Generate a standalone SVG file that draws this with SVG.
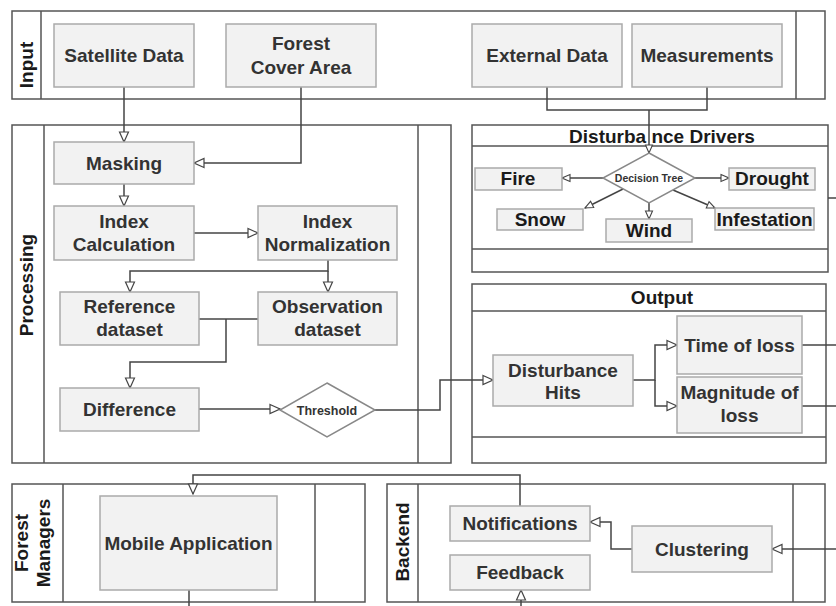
<svg xmlns="http://www.w3.org/2000/svg" width="836" height="606" viewBox="0 0 836 606">
<defs>
<style>
.lane{fill:#fff;stroke:#555;stroke-width:1.5}
.div{stroke:#555;stroke-width:1.5;fill:none}
.box{fill:#f2f2f2;stroke:#aaa;stroke-width:1.5}
.dia{fill:#fff;stroke:#888;stroke-width:1.5}
.t{font-family:"Liberation Sans",Arial,sans-serif;font-weight:bold;font-size:19px;fill:#333;text-anchor:middle}
.tk{fill:#1a1a1a}
.s1{font-size:10.5px}
.s2{font-size:12.5px}
.c{fill:none;stroke:#444;stroke-width:1.5}
.ca{marker-end:url(#arr)}
.cs{marker-end:url(#arrs)}
</style>
<marker id="arr" markerUnits="userSpaceOnUse" viewBox="0 0 12 12" markerWidth="12" markerHeight="12" refX="11" refY="6" orient="auto">
<path d="M1,1.5 L11,6 L1,10.5 Z" fill="#fff" stroke="#444" stroke-width="1.2"/>
</marker>
<marker id="arrs" markerUnits="userSpaceOnUse" viewBox="0 0 10 10" markerWidth="10" markerHeight="10" refX="9" refY="5" orient="auto">
<path d="M1,1.5 L9,5 L1,8.5 Z" fill="#fff" stroke="#444" stroke-width="1.1"/>
</marker>
</defs>
<rect width="836" height="606" fill="#fff"/>

<g id="lane-input">
<rect class="lane" x="12" y="11" width="813" height="88"/>
<path class="div" d="M41,11V99M796,11V99"/>
<text class="t tk" x="33" y="65" transform="rotate(-90 33 65)">Input</text>
</g>
<g id="lane-processing">
<rect class="lane" x="12" y="125" width="439" height="338"/>
<path class="div" d="M44,125V463M418,125V463"/>
<text class="t tk" x="33" y="285" transform="rotate(-90 33 285)">Processing</text>
</g>
<g id="lane-drivers">
<rect class="lane" x="472" y="125" width="356" height="147"/>
<path class="div" d="M472,146H828M472,249H828"/>
<text class="t tk" x="662" y="143">Disturba nce Drivers</text>
</g>
<g id="lane-output">
<rect class="lane" x="472" y="284" width="354" height="179"/>
<path class="div" d="M472,311H826M472,437H826"/>
<text class="t tk" x="662" y="304">Output</text>
</g>
<g id="lane-managers">
<rect class="lane" x="12" y="484" width="353" height="118"/>
<path class="div" d="M63,484V602M315,484V602"/>
<text class="t tk" x="28" y="543" transform="rotate(-90 28 543)">Forest</text>
<text class="t tk" x="50" y="543" transform="rotate(-90 50 543)">Managers</text>
</g>
<g id="lane-backend">
<rect class="lane" x="387" y="484" width="438" height="118"/>
<path class="div" d="M418,484V602M793,484V602"/>
<text class="t tk" x="409" y="542" transform="rotate(-90 409 542)">Backend</text>
</g>

<g id="connectors">
<path class="c ca" d="M124,87V142"/>
<path class="c ca" d="M301,87V163H194"/>
<path class="c ca" d="M124,184V206"/>
<path class="c ca" d="M194,233H258"/>
<path class="c ca" d="M328,260V271H130V292"/>
<path class="c ca" d="M328,271V292"/>
<path class="c" d="M199,319H258"/>
<path class="c ca" d="M226,319V362H130V388"/>
<path class="c ca" d="M199,409H280"/>
<path class="c ca" d="M375,410H440V380H493"/>
<path class="c ca" d="M633,380H655V345H677"/>
<path class="c ca" d="M655,380V406H677"/>
<path class="c" d="M802,345H836"/>
<path class="c" d="M802,406H836"/>
<path class="c" d="M547,87V110H707V87"/>
<path class="c cs" d="M649,110V153"/>
<path class="c cs" d="M603,178H562"/>
<path class="c cs" d="M695,178H729"/>
<path class="c cs" d="M623,189L585,208"/>
<path class="c cs" d="M649,203V219"/>
<path class="c cs" d="M673,190L715,208"/>
<path class="c" d="M828,198H836"/>
<path class="c ca" d="M836,549H772"/>
<path class="c ca" d="M632,549H611V522H590"/>
<path class="c ca" d="M520,506V475H193V494"/>
<path class="c" d="M189,590V606"/>
<path class="c ca" d="M521,606V590"/>
</g>

<g id="satellite-data">
<rect class="box" x="54" y="24" width="140" height="63"/>
<text class="t" x="124" y="62">Satellite Data</text>
</g>
<g id="forest-cover-area">
<rect class="box" x="226" y="24" width="150" height="63"/>
<text class="t" x="301" y="50">Forest</text>
<text class="t" x="301" y="74">Cover Area</text>
</g>
<g id="external-data">
<rect class="box" x="472" y="24" width="150" height="63"/>
<text class="t" x="547" y="62">External Data</text>
</g>
<g id="measurements">
<rect class="box" x="632" y="24" width="150" height="63"/>
<text class="t" x="707" y="62">Measurements</text>
</g>
<g id="masking">
<rect class="box" x="54" y="142" width="140" height="42"/>
<text class="t" x="124" y="170">Masking</text>
</g>
<g id="index-calculation">
<rect class="box" x="54" y="206" width="140" height="54"/>
<text class="t" x="124" y="228">Index</text>
<text class="t" x="124" y="251">Calculation</text>
</g>
<g id="index-normalization">
<rect class="box" x="258" y="206" width="139" height="54"/>
<text class="t" x="327.5" y="228">Index</text>
<text class="t" x="327.5" y="251">Normalization</text>
</g>
<g id="reference-dataset">
<rect class="box" x="60" y="292" width="139" height="53"/>
<text class="t" x="129.5" y="313">Reference</text>
<text class="t" x="129.5" y="336">dataset</text>
</g>
<g id="observation-dataset">
<rect class="box" x="258" y="292" width="139" height="53"/>
<text class="t" x="327.5" y="313">Observation</text>
<text class="t" x="327.5" y="336">dataset</text>
</g>
<g id="difference">
<rect class="box" x="60" y="388" width="139" height="43"/>
<text class="t" x="129.5" y="416">Difference</text>
</g>
<g id="threshold">
<polygon class="dia" points="327,383 375,410 327,437 280,410"/>
<text class="t s2" x="327" y="414.5">Threshold</text>
</g>
<g id="decision-tree">
<polygon class="dia" points="649,153 695,178 649,203 603,178"/>
<text class="t s1" x="649" y="182">Decision Tree</text>
</g>
<g id="fire">
<rect class="box" x="475" y="168" width="87" height="22"/>
<text class="t tk" x="518" y="185">Fire</text>
</g>
<g id="drought">
<rect class="box" x="729" y="168" width="86" height="22"/>
<text class="t tk" x="772" y="185">Drought</text>
</g>
<g id="snow">
<rect class="box" x="497" y="209" width="86" height="21"/>
<text class="t tk" x="540" y="226">Snow</text>
</g>
<g id="wind">
<rect class="box" x="606" y="219" width="86" height="23"/>
<text class="t tk" x="649" y="237">Wind</text>
</g>
<g id="infestation">
<rect class="box" x="715" y="208" width="99" height="22"/>
<text class="t tk" x="764.5" y="226">Infestation</text>
</g>
<g id="disturbance-hits">
<rect class="box" x="493" y="355" width="140" height="51"/>
<text class="t" x="563" y="377">Disturbance</text>
<text class="t" x="563" y="399">Hits</text>
</g>
<g id="time-of-loss">
<rect class="box" x="677" y="316" width="125" height="58"/>
<text class="t" x="739.5" y="352">Time of loss</text>
</g>
<g id="magnitude-of-loss">
<rect class="box" x="677" y="377" width="125" height="56"/>
<text class="t" x="739.5" y="399">Magnitude of</text>
<text class="t" x="739.5" y="422">loss</text>
</g>
<g id="mobile-application">
<rect class="box" x="100" y="496" width="177" height="94"/>
<text class="t" x="188.5" y="550">Mobile Application</text>
</g>
<g id="notifications">
<rect class="box" x="450" y="506" width="140" height="35"/>
<text class="t" x="520" y="530">Notifications</text>
</g>
<g id="feedback">
<rect class="box" x="450" y="555" width="140" height="35"/>
<text class="t" x="520" y="579">Feedback</text>
</g>
<g id="clustering">
<rect class="box" x="632" y="526" width="140" height="46"/>
<text class="t" x="702" y="556">Clustering</text>
</g>
</svg>
